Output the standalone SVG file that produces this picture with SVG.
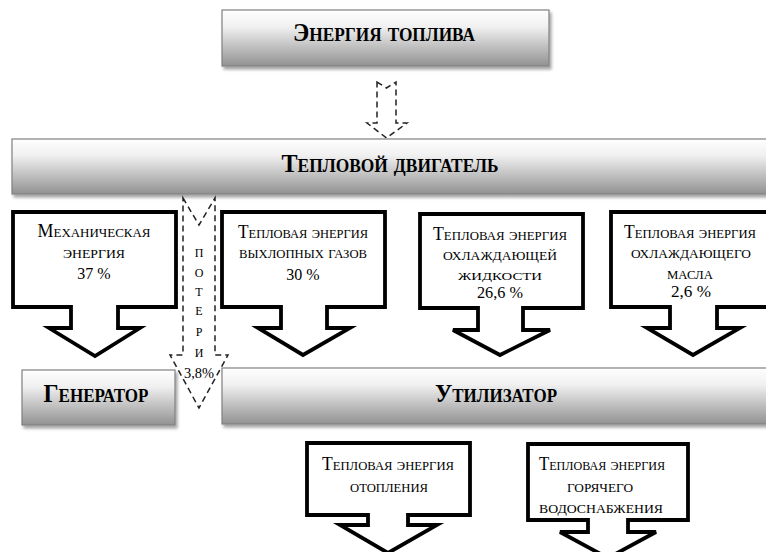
<svg xmlns="http://www.w3.org/2000/svg" width="766" height="552" viewBox="0 0 766 552">
<defs>
<linearGradient id="g" x1="0" y1="0" x2="0" y2="1">
<stop offset="0" stop-color="#ffffff"/>
<stop offset="0.3" stop-color="#f0f0f0"/>
<stop offset="1" stop-color="#929292"/>
</linearGradient>
<filter id="sh" x="-5%" y="-20%" width="115%" height="150%">
<feDropShadow dx="2" dy="3" stdDeviation="1.6" flood-color="#000" flood-opacity="0.35"/>
</filter>
</defs>
<style>
.box{fill:url(#g);stroke:#808080;stroke-width:1.2;filter:url(#sh)}
.call{fill:#fff;stroke:#000;stroke-width:3.8;stroke-linejoin:miter}
.dash{fill:none;stroke:#222;stroke-width:1.5;stroke-dasharray:6 4}
.h{font-family:"Liberation Serif","Times New Roman",serif;font-weight:bold;font-variant:small-caps;text-anchor:middle;fill:#000;font-size:25px}
.t{font-family:"Liberation Serif","Times New Roman",serif;font-variant:small-caps;text-anchor:middle;fill:#000;font-size:18px}
.n{font-family:"Liberation Serif","Times New Roman",serif;font-variant:normal;text-anchor:middle;fill:#000;font-size:16px}
.p{font-family:"Liberation Serif","Times New Roman",serif;font-variant:small-caps;text-anchor:middle;fill:#000;font-size:17px}
</style>

<g id="connectors">
<path class="dash" d="M377,82 L386.5,88 L396,82 V123 H407 L386.5,138 L367,123 H377 Z"/>
<path class="dash" d="M183,198 L199,225 L215,198 V355 H228 L199,408 L170,355 H183 Z"/>
<g id="poteri-label">
<text class="p" x="199" y="257">п</text>
<text class="p" x="199" y="277">о</text>
<text class="p" x="199" y="296">т</text>
<text class="p" x="199" y="315">е</text>
<text class="p" x="199" y="336">р</text>
<text class="p" x="199" y="357">и</text>
<text class="n" x="199" y="378" style="font-size:15px" textLength="30" lengthAdjust="spacingAndGlyphs">3,8%</text>
</g>
</g>

<g id="fuel">
<rect class="box" x="222" y="10" width="327" height="56"/>
<text class="h" x="384" y="41" textLength="182" lengthAdjust="spacingAndGlyphs">Энергия топлива</text>
</g>

<g id="engine">
<rect class="box" x="12" y="139" width="760" height="55"/>
<text class="h" x="390" y="172" textLength="217" lengthAdjust="spacingAndGlyphs">Тепловой двигатель</text>
</g>

<g id="mech">
<path class="call" d="M13,212 H176 V307 H118 V328 H140 L95,356 L49,328 H71 V307 H13 Z"/>
<text class="t" x="94" y="237" textLength="113" lengthAdjust="spacingAndGlyphs">Механическая</text>
<text class="t" x="94" y="258" textLength="62" lengthAdjust="spacingAndGlyphs">энергия</text>
<text class="n" x="94" y="279">37 %</text>
</g>

<g id="exhaust">
<path class="call" d="M222,212 H385 V307 H327 V328 H350 L303,355 L258,328 H281 V307 H222 Z"/>
<text class="t" x="303" y="238" textLength="130" lengthAdjust="spacingAndGlyphs">Тепловая энергия</text>
<text class="t" x="303" y="258" textLength="128" lengthAdjust="spacingAndGlyphs">выхлопных газов</text>
<text class="n" x="303" y="280">30 %</text>
</g>

<g id="coolant">
<path class="call" d="M420,214 H583 V308 H523 V330 H550 L500,355 L453,330 H478 V308 H420 Z"/>
<text class="t" x="500" y="240" textLength="134" lengthAdjust="spacingAndGlyphs">Тепловая энергия</text>
<text class="t" x="500" y="260" textLength="114" lengthAdjust="spacingAndGlyphs">охлаждающей</text>
<text class="t" x="500" y="280" style="font-size:16px" textLength="84" lengthAdjust="spacingAndGlyphs">жидкости</text>
<text class="n" x="500" y="298" textLength="46" lengthAdjust="spacingAndGlyphs">26,6 %</text>
</g>

<g id="oil">
<path class="call" d="M611,212 H775 V307 H717 V328 H740 L693,355 L647,328 H670 V307 H611 Z"/>
<text class="t" x="690" y="238" textLength="132" lengthAdjust="spacingAndGlyphs">Тепловая энергия</text>
<text class="t" x="691" y="258" textLength="120" lengthAdjust="spacingAndGlyphs">охлаждающего</text>
<text class="t" x="690" y="279" textLength="46" lengthAdjust="spacingAndGlyphs">масла</text>
<text class="n" x="691" y="297" textLength="40" lengthAdjust="spacingAndGlyphs">2,6 %</text>
</g>

<g id="generator">
<rect class="box" x="22" y="370" width="153" height="55"/>
<text class="h" x="96" y="402" textLength="105" lengthAdjust="spacingAndGlyphs">Генератор</text>
</g>

<g id="utilizer">
<rect class="box" x="222" y="368" width="550" height="56"/>
<text class="h" x="496" y="402" textLength="122" lengthAdjust="spacingAndGlyphs">Утилизатор</text>
</g>

<g id="heating">
<path class="call" d="M307,443 H470 V515 H408 V525 H437 L388,553 L340,525 H368 V515 H307 Z"/>
<text class="t" x="388" y="470" textLength="132" lengthAdjust="spacingAndGlyphs">Тепловая энергия</text>
<text class="t" x="389" y="492" textLength="78" lengthAdjust="spacingAndGlyphs">отопления</text>
</g>

<g id="hotwater">
<path class="call" d="M528,444 H688 V520 H628 V532 H656 L608,558 L560,532 H588 V520 H528 Z"/>
<text class="t" x="602" y="470" textLength="126" lengthAdjust="spacingAndGlyphs">Тепловая энергия</text>
<text class="t" x="600" y="492" textLength="66" lengthAdjust="spacingAndGlyphs">горячего</text>
<text class="t" x="601" y="513" textLength="124" lengthAdjust="spacingAndGlyphs">водоснабжения</text>
</g>
</svg>
